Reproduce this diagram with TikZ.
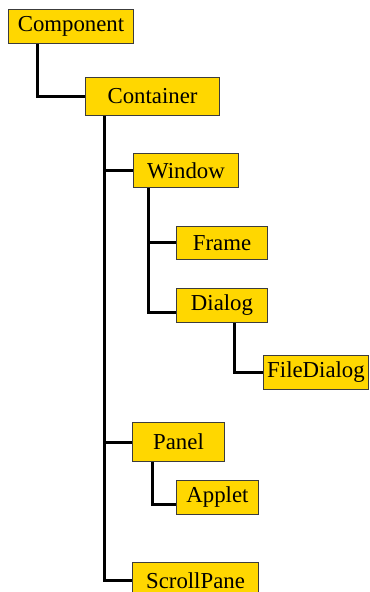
\documentclass[tikz,border=0pt]{standalone}
\usepackage{fontspec}
\setmainfont{Liberation Serif}
\usepackage{tikz}
\definecolor{gold}{RGB}{255, 215, 0}
\definecolor{edge}{RGB}{60, 60, 60}

\begin{document}
\begin{tikzpicture}[x=0.5pt, y=-0.5pt, thick]
    \tikzset{
        cls/.style={draw=edge, line width=0.5pt, fill=gold, anchor=north west,
                inner sep=0pt, font=\fontsize{11.4}{13}\selectfont},
        link/.style={line width=1.5pt, black}
    }
    \useasboundingbox (0, 0) rectangle (369, 592);

    % boxes, placed by their top left corners
    \node[cls, minimum width=62.5pt, minimum height=17pt] (comp) at (8, 9) {Component};
    \node[cls, minimum width=67pt, minimum height=19pt] (cont) at (85, 77) {Container};
    \node[cls, minimum width=52.5pt, minimum height=17pt] (win) at (133, 153) {Window};
    \node[cls, minimum width=45.5pt, minimum height=16.5pt] (frm) at (176, 226) {Frame};
    \node[cls, minimum width=45.5pt, minimum height=17pt] (dlg) at (176, 288) {Dialog};
    \node[cls, minimum width=52.5pt, minimum height=17pt] (fdlg) at (263, 355) {FileDialog};
    \node[cls, minimum width=46pt, minimum height=19.5pt] (pnl) at (132, 422) {Panel};
    \node[cls, minimum width=41pt, minimum height=17pt] (app) at (176, 480) {Applet};
    \node[cls, minimum width=63pt, minimum height=18pt] (scp) at (132, 562) {ScrollPane};

    % tree links
    \draw[link] (comp.south west) ++(29, 0) |- (cont.west);
    \foreach \n in {win, pnl, scp} {
            \draw[link] (cont.south west) ++(19, 0) |- (\n.west);
        }
    \draw[link] (win.south west) ++(15, 0) |- (frm.west);
    \draw[link] (win.south west) ++(15, 0) |- ([yshift=-3.5pt]dlg.west);
    \draw[link] (dlg.south west) ++(58, 0) |- (fdlg.west);
    \draw[link] (pnl.south west) ++(20, 0) |- ([yshift=-3.5pt]app.west);

\end{tikzpicture}
\end{document}
